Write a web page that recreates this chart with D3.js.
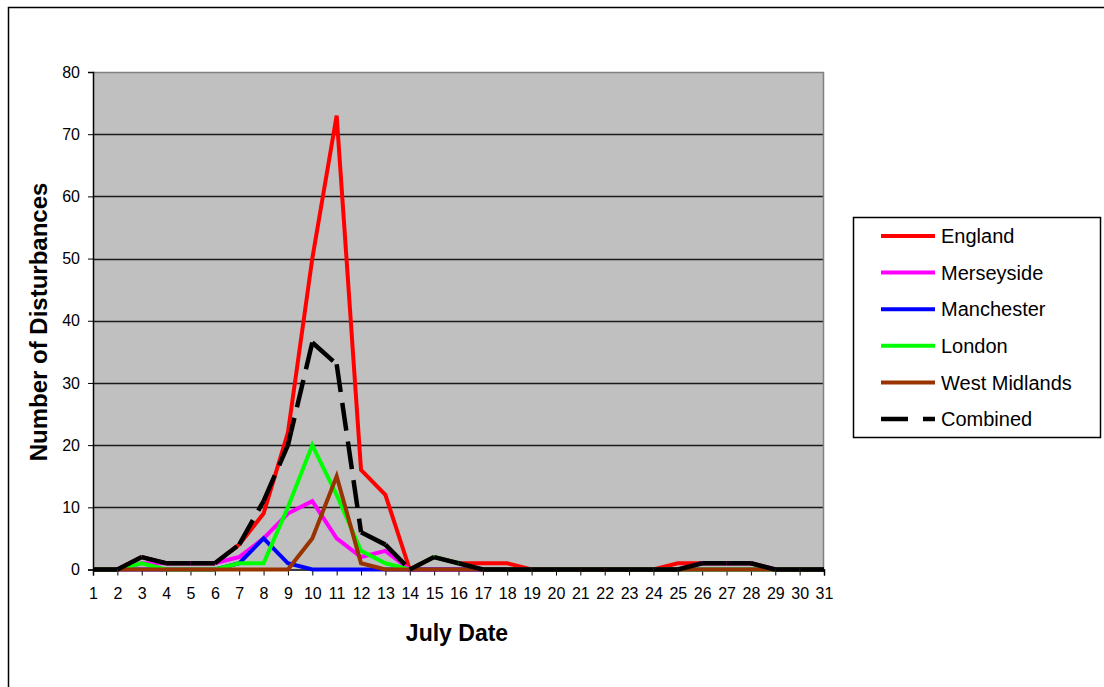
<!DOCTYPE html>
<html>
<head>
<meta charset="utf-8">
<script src="https://cdn.jsdelivr.net/npm/d3@7"></script>
<style>
  html, body { margin: 0; padding: 0; background: #fff; }
  svg { display: block; font-family: Arial, "Liberation Sans", sans-serif; }
</style>
</head>
<body>
<svg id="chart" width="1104" height="687"></svg>
<script>
// July dates on the category axis
const days = d3.range(1, 32);
const yTicks = [0, 10, 20, 30, 40, 50, 60, 70, 80];

// Disturbances per day
const england      = [0,0,2,1,1,1,4,9,22,50,73,16,12,0,2,1,1,1,0,0,0,0,0,0,1,1,1,1,0,0,0];
const merseyside   = [0,0,1,1,1,1,2,5,9,11,5,2,3,0,0,0,0,0,0,0,0,0,0,0,0,1,1,1,0,0,0];
const manchester   = [0,0,0,0,0,0,1,5,1,0,0,0,0,0,0,0,0,0,0,0,0,0,0,0,0,0,0,0,0,0,0];
const london       = [0,0,1,0,0,0,1,1,10,20,12,3,1,0,2,1,0,0,0,0,0,0,0,0,0,0,0,0,0,0,0];
const westMidlands = [0,0,0,0,0,0,0,0,0,5,15,1,0,0,0,0,0,0,0,0,0,0,0,0,0,0,0,0,0,0,0];
const combined     = [0,0,2,1,1,1,4,11,20,36.5,33,6,4,0,2,1,0,0,0,0,0,0,0,0,0,1,1,1,0,0,0];

const series = [
  { name: "England",       values: england,      color: "#ff0000", width: 4,   dash: null },
  { name: "Merseyside",    values: merseyside,   color: "#ff00ff", width: 4,   dash: null },
  { name: "Manchester",    values: manchester,   color: "#0000ff", width: 4,   dash: null },
  { name: "London",        values: london,       color: "#00ff00", width: 4,   dash: null },
  { name: "West Midlands", values: westMidlands, color: "#993300", width: 4,   dash: null },
  { name: "Combined",      values: combined,     color: "#000000", width: 4.5, dash: "28,11" }
];

const svg = d3.select("#chart");

// Outer chart frame
svg.append("rect")
  .attr("x", 8.5).attr("y", 7.5)
  .attr("width", 1120).attr("height", 700)
  .attr("fill", "#fff").attr("stroke", "#000").attr("stroke-width", 1.5);

const plot = { left: 93, right: 824, top: 72, bottom: 569.5 };

const x = d3.scalePoint().domain(days).range([plot.left, plot.right]);
const y = d3.scaleLinear().domain([0, 80]).range([plot.bottom, plot.top]);

// Plot area background
svg.append("rect")
  .attr("x", plot.left).attr("y", plot.top)
  .attr("width", plot.right - plot.left).attr("height", plot.bottom - plot.top)
  .attr("fill", "#c0c0c0");

// Horizontal gridlines
svg.append("g")
  .selectAll("line")
  .data(yTicks.filter(v => v > 0 && v < 80))
  .join("line")
  .attr("x1", plot.left).attr("x2", plot.right)
  .attr("y1", d => Math.round(y(d)) + 0.5).attr("y2", d => Math.round(y(d)) + 0.5)
  .attr("stroke", "#1a1a1a").attr("stroke-width", 1.3);

// Plot border (top and right)
svg.append("path")
  .attr("d", `M${plot.left},${plot.top + 0.5}H${plot.right - 0.5}V${plot.bottom}`)
  .attr("fill", "none").attr("stroke", "#808080").attr("stroke-width", 1.5);

// Y axis
const yAxis = d3.axisLeft(y).tickValues(yTicks).tickSize(5).tickPadding(8).tickFormat(d3.format("d"));
const gy = svg.append("g").attr("transform", `translate(${plot.left},0)`).call(yAxis);
gy.select(".domain").attr("stroke", "#000").attr("stroke-width", 1.5);
gy.selectAll(".tick line").attr("stroke", "#000");
gy.selectAll(".tick text").attr("font-size", 16).attr("fill", "#000")
  .attr("font-family", "Arial, 'Liberation Sans', sans-serif");

// X axis
const xAxis = d3.axisBottom(x).tickSize(6).tickPadding(12);
const gx = svg.append("g").attr("transform", `translate(0,${plot.bottom})`).call(xAxis);
gx.select(".domain").attr("stroke", "#000").attr("stroke-width", 1.5);
gx.selectAll(".tick line").attr("stroke", "#000");
gx.selectAll(".tick text").attr("font-size", 16).attr("fill", "#000")
  .attr("font-family", "Arial, 'Liberation Sans', sans-serif");

// Series lines; dashed series restart their dash pattern on every segment
const line = d3.line()
  .x(d => x(d.day))
  .y(d => y(d.value));

const lines = svg.append("g");
series.forEach(s => {
  const pts = s.values.map((v, i) => ({ day: days[i], value: v }));
  if (!s.dash) {
    lines.append("path")
      .attr("d", line(pts))
      .attr("fill", "none")
      .attr("stroke", s.color)
      .attr("stroke-width", s.width)
      .attr("stroke-linejoin", "miter");
  } else {
    const segs = d3.pairs(pts);
    lines.append("g")
      .selectAll("path")
      .data(segs)
      .join("path")
      .attr("d", d => line(d))
      .attr("fill", "none")
      .attr("stroke", s.color)
      .attr("stroke-width", s.width)
      .attr("stroke-dasharray", s.dash);
  }
});

// Axis titles
svg.append("text")
  .attr("x", 457).attr("y", 641)
  .attr("text-anchor", "middle")
  .attr("font-size", 23).attr("font-weight", "bold")
  .text("July Date");

svg.append("text")
  .attr("transform", "translate(47,322) rotate(-90)")
  .attr("text-anchor", "middle")
  .attr("font-size", 24).attr("font-weight", "bold")
  .text("Number of Disturbances");

// Legend
const legend = svg.append("g");
legend.append("rect")
  .attr("x", 853.5).attr("y", 217.5)
  .attr("width", 247).attr("height", 220)
  .attr("fill", "#fff").attr("stroke", "#000").attr("stroke-width", 1.5);

const rows = legend.selectAll("g.row")
  .data(series)
  .join("g")
  .attr("class", "row")
  .attr("transform", (d, i) => `translate(0,${236 + i * 36.6})`);

rows.append("line")
  .attr("x1", 881).attr("x2", 935)
  .attr("y1", 0).attr("y2", 0)
  .attr("stroke", d => d.color)
  .attr("stroke-width", d => d.width)
  .attr("stroke-dasharray", d => d.dash ? "27,15" : null);

rows.append("text")
  .attr("x", 941).attr("y", 0)
  .attr("dy", "0.36em")
  .attr("font-size", 20)
  .text(d => d.name);
</script>
</body>
</html>
